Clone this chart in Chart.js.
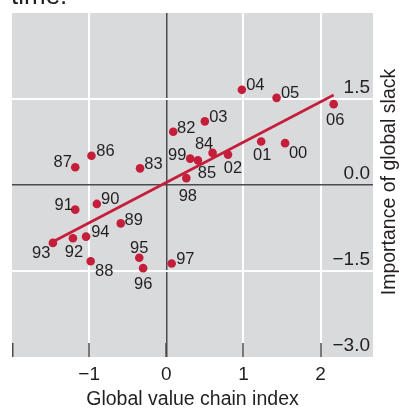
<!DOCTYPE html>
<html>
<head>
<meta charset="utf-8">
<script src="https://cdn.jsdelivr.net/npm/chart.js@4"></script>
<style>
  html, body { margin: 0; padding: 0; background: #ffffff; }
  #wrap { width: 400px; height: 410px; position: relative; }
</style>
</head>
<body>
<div id="wrap"><canvas id="c" width="400" height="410"></canvas></div>
<script>
// Year labels (19xx / 20xx) for each observation
const years = ['82','83','84','85','86','87','88','89','90','91','92','93','94','95','96','97','98','99','00','01','02','03','04','05','06'];
// Global value chain index (horizontal)
const gvcIndex = [0.09, -0.34, 0.60, 0.41, -0.97, -1.18, -0.98, -0.59, -0.90, -1.18, -1.21, -1.47, -1.04, -0.35, -0.30, 0.07, 0.26, 0.31, 1.54, 1.23, 0.80, 0.50, 0.98, 1.43, 2.17];
// Importance of global slack (vertical)
const slackImportance = [0.93, 0.29, 0.56, 0.43, 0.51, 0.31, -1.33, -0.67, -0.33, -0.43, -0.93, -1.01, -0.90, -1.27, -1.45, -1.37, 0.12, 0.46, 0.73, 0.76, 0.53, 1.11, 1.66, 1.52, 1.41];
// Fitted line end points
const fitX = [-1.47, 2.17];
const fitY = [-0.99, 1.57];
// Axis ticks
const xTickValues = [-2, -1, 0, 1, 2];
const xTickLabels = ['', '\u22121', '0', '1', '2'];
const yTickValues = [-3, -1.5, 0, 1.5];
const yTickLabels = ['\u22123.0', '\u22121.5', '0.0', '1.5'];

// Where each year label sits relative to its dot (centre offsets, px)
const labelOffsets = {
  '82': [13, -5], '83': [13.5, -5], '84': [-8.5, -10], '85': [9, 12], '86': [14, -6],
  '87': [-12.5, -6], '88': [13.5, 9], '89': [13, -4.5], '90': [13.3, -5.5], '91': [-11.5, -6],
  '92': [1, 12.5], '93': [-11.7, 9.5], '94': [14.3, -5.5], '95': [0, -11], '96': [0, 15],
  '97': [13.7, -6], '98': [1.5, 16.5], '99': [-13, -4.5], '00': [13, 9], '01': [1, 12.5],
  '02': [5, 12], '03': [13.5, -5], '04': [13.5, -6], '05': [13.5, -5.7], '06': [1.5, 14.7]
};

const FONT = '"Liberation Sans", Arial, Helvetica, sans-serif';
const INK = '#231f20';
const RED = '#c41e3a';
const PANEL = '#d9dadc';
const AXIS_DARK = '#4b4b4d';

const points = gvcIndex.map((x, i) => ({ x: x, y: slackImportance[i] }));
const fitPoints = fitX.map((x, i) => ({ x: x, y: fitY[i] }));

const panelPlugin = {
  id: 'panel',
  beforeDraw(chart) {
    const { ctx, chartArea: a } = chart;
    ctx.save();
    ctx.fillStyle = PANEL;
    ctx.fillRect(a.left, a.top, a.right - a.left, a.bottom - a.top);
    // heading text running off the top edge
    ctx.fillStyle = INK;
    ctx.font = '26px ' + FONT;
    ctx.textBaseline = 'alphabetic';
    ctx.textAlign = 'left';
    ctx.fillText('time.', 11, 4);
    ctx.restore();
  },
  beforeDatasetsDraw(chart) {
    const { ctx, chartArea: a, scales } = chart;
    ctx.save();
    // short tick marks standing inside the panel along its bottom edge
    ctx.strokeStyle = AXIS_DARK;
    ctx.lineWidth = 1.5;
    xTickValues.forEach(v => {
      const px = Math.round(scales.x.getPixelForValue(v)) + (v === -2 ? 0.75 : 0);
      ctx.beginPath();
      ctx.moveTo(px, a.bottom);
      ctx.lineTo(px, a.bottom - 14);
      ctx.stroke();
    });
    ctx.restore();
  },
  afterDatasetsDraw(chart) {
    const { ctx, scales } = chart;
    ctx.save();
    ctx.fillStyle = INK;
    ctx.font = '16.5px ' + FONT;
    ctx.textAlign = 'center';
    ctx.textBaseline = 'alphabetic';
    years.forEach((yr, i) => {
      const px = scales.x.getPixelForValue(gvcIndex[i]);
      const py = scales.y.getPixelForValue(slackImportance[i]);
      const off = labelOffsets[yr];
      ctx.fillText(yr, px + off[0], py + off[1] + 6);
    });
    // vertical axis title, reading bottom to top at the right
    ctx.font = '19.5px ' + FONT;
    ctx.translate(390, 182);
    ctx.rotate(-Math.PI / 2);
    ctx.textBaseline = 'middle';
    ctx.fillText('Importance of global slack', 0, 0);
    ctx.restore();
  }
};

new Chart(document.getElementById('c'), {
  type: 'scatter',
  data: {
    datasets: [
      {
        type: 'scatter',
        data: points,
        backgroundColor: RED,
        borderWidth: 0,
        pointRadius: 4.3,
        order: 0
      },
      {
        type: 'line',
        data: fitPoints,
        borderColor: RED,
        borderWidth: 2.6,
        pointRadius: 0,
        fill: false,
        order: 1
      }
    ]
  },
  options: {
    responsive: false,
    animation: false,
    events: [],
    layout: { padding: { left: 12, right: 27, top: 13, bottom: 0 } },
    plugins: { legend: { display: false }, tooltip: { enabled: false } },
    scales: {
      x: {
        type: 'linear',
        position: 'bottom',
        min: -2,
        max: 2.68,
        afterBuildTicks(scale) { scale.ticks = xTickValues.map(v => ({ value: v })); },
        ticks: {
          callback(value) { const k = xTickValues.indexOf(value); return k >= 0 ? xTickLabels[k] : ''; },
          color: INK,
          font: { family: FONT, size: 19 },
          padding: 6.6,
          maxRotation: 0
        },
        grid: {
          drawTicks: false,
          color(ctx) {
            const v = ctx.tick ? ctx.tick.value : null;
            if (v === 0) return AXIS_DARK;
            if (v === -2) return 'rgba(0,0,0,0)';
            return '#ffffff';
          },
          lineWidth(ctx) { return ctx.tick && ctx.tick.value === 0 ? 1.5 : 2; }
        },
        border: { display: false },
        title: {
          display: true,
          text: 'Global value chain index',
          color: INK,
          font: { family: FONT, size: 19.5, lineHeight: 0.7 },
          padding: { top: 0.15, bottom: 3.2 }
        }
      },
      y: {
        type: 'linear',
        position: 'right',
        min: -3,
        max: 3,
        afterBuildTicks(scale) { scale.ticks = yTickValues.map(v => ({ value: v })); },
        // labels sit inside the panel, so the axis itself takes no width
        afterFit(scale) { scale.width = 0; },
        ticks: {
          callback(value) { const k = yTickValues.indexOf(value); return k >= 0 ? yTickLabels[k] : ''; },
          mirror: true,
          color: INK,
          font: { family: FONT, size: 19 },
          padding: -3,
          labelOffset: -11
        },
        grid: {
          drawTicks: false,
          color(ctx) {
            const v = ctx.tick ? ctx.tick.value : null;
            if (v === 0) return AXIS_DARK;
            if (v === -3) return 'rgba(0,0,0,0)';
            return '#ffffff';
          },
          lineWidth(ctx) { return ctx.tick && ctx.tick.value === 0 ? 1.5 : 2; }
        },
        border: { display: false }
      }
    }
  },
  plugins: [panelPlugin]
});
</script>
</body>
</html>
